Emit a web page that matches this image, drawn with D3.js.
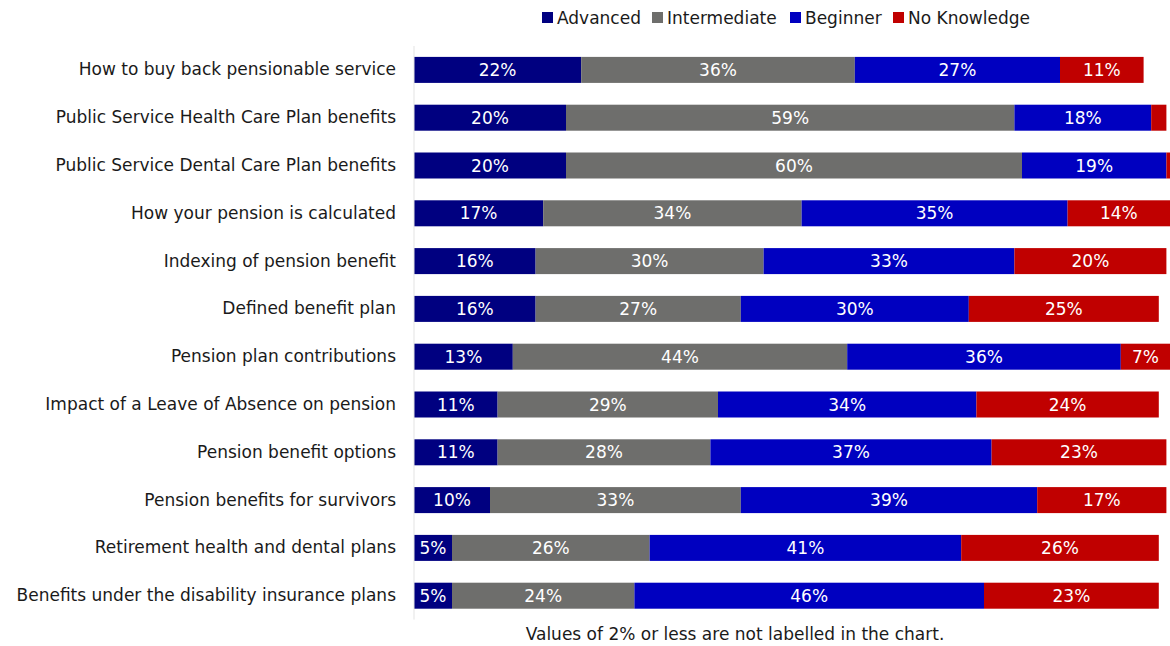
<!DOCTYPE html>
<html>
<head>
<meta charset="utf-8">
<script src="https://cdn.jsdelivr.net/npm/d3@7"></script>
<style>
  html, body { margin: 0; padding: 0; background: #fff; overflow: hidden; }
  svg { display: block; font-family: "DejaVu Sans", sans-serif; }
</style>
</head>
<body>
<svg id="chart" width="1170" height="646"></svg>
<script>
// Pension knowledge topics, top to bottom
const categories = [
  "How to buy back pensionable service",
  "Public Service Health Care Plan benefits",
  "Public Service Dental Care Plan benefits",
  "How your pension is calculated",
  "Indexing of pension benefit",
  "Defined benefit plan",
  "Pension plan contributions",
  "Impact of a Leave of Absence on pension",
  "Pension benefit options",
  "Pension benefits for survivors",
  "Retirement health and dental plans",
  "Benefits under the disability insurance plans"
];

// Share of respondents (%) per knowledge level
const advanced     = [22, 20, 20, 17, 16, 16, 13, 11, 11, 10, 5, 5];
const intermediate = [36, 59, 60, 34, 30, 27, 44, 29, 28, 33, 26, 24];
const beginner     = [27, 18, 19, 35, 33, 30, 36, 34, 37, 39, 41, 46];
const noKnowledge  = [11, 2, 1, 14, 20, 25, 7, 24, 23, 17, 26, 23];

const seriesNames = ["Advanced", "Intermediate", "Beginner", "No Knowledge"];
const seriesColors = ["#000080", "#6e6e6c", "#0000c0", "#c00000"];

const FONT = "'DejaVu Sans', sans-serif";
const FS = 17;

const rows = categories.map((c, i) => ({
  category: c,
  "Advanced": advanced[i],
  "Intermediate": intermediate[i],
  "Beginner": beginner[i],
  "No Knowledge": noKnowledge[i]
}));

const svg = d3.select("#chart");

const x = d3.scaleLinear().domain([0, 100]).range([414, 1174]);
const y = d3.scaleBand().domain(categories).range([46, 619.6])
  .paddingInner(0.456).paddingOuter(0.228);
const color = d3.scaleOrdinal().domain(seriesNames).range(seriesColors);

const stacked = d3.stack().keys(seriesNames)(rows);

// Stacked segments
const layers = svg.append("g").selectAll("g")
  .data(stacked).join("g")
  .attr("fill", d => color(d.key));

layers.selectAll("rect")
  .data(d => d.map(p => ({ p, key: d.key })))
  .join("rect")
  .attr("x", d => x(d.p[0]))
  .attr("y", d => y(d.p.data.category))
  .attr("width", d => x(d.p[1]) - x(d.p[0]))
  .attr("height", y.bandwidth());

// Segment value labels (values of 2% or less are left unlabelled)
layers.selectAll("text")
  .data(d => d.map(p => ({ p, key: d.key })).filter(d => d.p[1] - d.p[0] > 2))
  .join("text")
  .attr("x", d => (x(d.p[0]) + Math.min(x(d.p[1]), 1170)) / 2)
  .attr("y", d => y(d.p.data.category) + y.bandwidth() / 2)
  .attr("dy", "0.36em")
  .attr("text-anchor", "middle")
  .attr("fill", "#fff")
  .attr("font-size", FS)
  .text(d => (d.p[1] - d.p[0]) + "%");

// Category axis
const yAxis = svg.append("g")
  .attr("transform", `translate(${x(0)},0)`)
  .call(d3.axisLeft(y).tickSize(0).tickPadding(18));
yAxis.select(".domain").attr("stroke", "#e3e3e3").attr("d", "M0,46V619.6");
yAxis.selectAll("text")
  .attr("font-size", FS)
  .attr("font-family", FONT)
  .attr("fill", "#1a1a1a");

// Legend
const legendX = [542, 652, 790, 893];
const legend = svg.append("g").selectAll("g")
  .data(seriesNames).join("g")
  .attr("transform", (d, i) => `translate(${legendX[i]},18)`);
legend.append("rect")
  .attr("x", 0).attr("y", -6).attr("width", 11).attr("height", 11)
  .attr("fill", d => color(d));
legend.append("text")
  .attr("x", 15).attr("dy", "0.36em")
  .attr("font-size", FS).attr("fill", "#1a1a1a")
  .text(d => d);

// Footnote
svg.append("text")
  .attr("x", 735).attr("y", 634).attr("dy", "0.36em")
  .attr("text-anchor", "middle")
  .attr("font-size", FS).attr("fill", "#1a1a1a")
  .text("Values of 2% or less are not labelled in the chart.");
</script>
</body>
</html>
